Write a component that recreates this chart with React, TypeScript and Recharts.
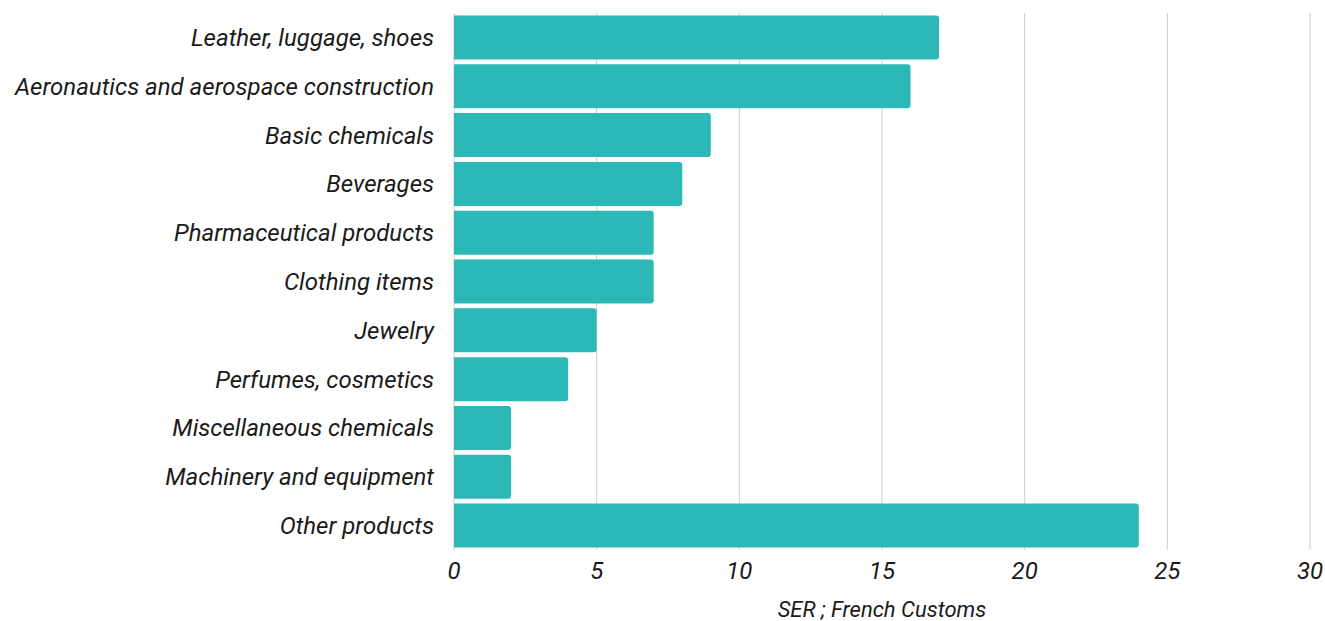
import { BarChart, Bar, XAxis, YAxis, CartesianGrid } from 'recharts';

const categories = [
  'Leather, luggage, shoes',
  'Aeronautics and aerospace construction',
  'Basic chemicals',
  'Beverages',
  'Pharmaceutical products',
  'Clothing items',
  'Jewelry',
  'Perfumes, cosmetics',
  'Miscellaneous chemicals',
  'Machinery and equipment',
  'Other products',
];
const shares = [17, 16, 9, 8, 7, 7, 5, 4, 2, 2, 24];
const xTicks = [0, 5, 10, 15, 20, 25, 30];

const data = categories.map((name, i) => ({ name, value: shares[i] }));

const tickFont = { fontFamily: 'Roboto', fontStyle: 'italic', fontSize: 24, fill: '#1a1a1a' };

export default function App() {
  return (
    <div style={{ position: 'absolute', left: 0, top: 0 }}>
      <BarChart
        width={1325}
        height={621}
        data={data}
        layout="vertical"
        margin={{ top: 13, right: 15, left: 0, bottom: 0 }}
        barCategoryGap="5%"
      >
        <CartesianGrid horizontal={false} stroke="#cccccc" />
        <XAxis
          type="number"
          domain={[0, 30]}
          ticks={xTicks}
          axisLine={false}
          tickLine={false}
          tickMargin={6}
          height={71}
          tick={tickFont}
          label={{
            value: 'SER ; French Customs',
            position: 'insideBottom',
            offset: 4,
            style: { fontFamily: 'Roboto', fontStyle: 'italic', fontSize: 22, fill: '#1a1a1a' },
          }}
        />
        <YAxis
          type="category"
          dataKey="name"
          width={454}
          axisLine={false}
          tickLine={false}
          tickMargin={14}
          tick={tickFont}
          interval={0}
        />
        <Bar dataKey="value" fill="#2db8b8" radius={[0, 3, 3, 0]} isAnimationActive={false} />
      </BarChart>
    </div>
  );
}
